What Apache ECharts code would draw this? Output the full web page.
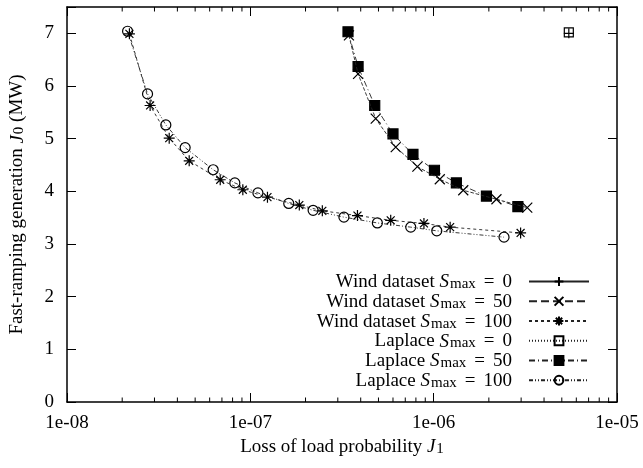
<!DOCTYPE html>
<html><head><meta charset="utf-8">
<script src="https://cdn.jsdelivr.net/npm/echarts@6/dist/echarts.min.js"></script>
<style>html,body{margin:0;padding:0;background:#fff}#c{width:643px;height:468px}</style>
</head><body><div id="c"></div>
<script>
// ---- data (x = loss of load probability J1, y = fast-ramping generation J0 in MW)
const xTickLabels = ['1e-08', '1e-07', '1e-06', '1e-05'];
const yTickLabels = ['0', '1', '2', '3', '4', '5', '6', '7'];
const minorTickValues = [
  2e-8, 3e-8, 4e-8, 5e-8, 6e-8, 7e-8, 8e-8, 9e-8,
  2e-7, 3e-7, 4e-7, 5e-7, 6e-7, 7e-7, 8e-7, 9e-7,
  2e-6, 3e-6, 4e-6, 5e-6, 6e-6, 7e-6, 8e-6, 9e-6
];
const seriesNames = [
  ['Wind dataset', '0'], ['Wind dataset', '50'], ['Wind dataset', '100'],
  ['Laplace', '0'], ['Laplace', '50'], ['Laplace', '100']
];
const windS0 = [[5.46e-6, 7.0]];
const windS50 = [
  [3.45e-7, 6.96], [3.87e-7, 6.23], [4.83e-7, 5.38], [6.21e-7, 4.84], [8.15e-7, 4.47],
  [1.08e-6, 4.23], [1.45e-6, 4.02], [2.20e-6, 3.85], [3.24e-6, 3.69]
];
const windS100 = [
  [2.19e-8, 6.99], [2.84e-8, 5.63], [3.61e-8, 5.01], [4.64e-8, 4.58], [6.85e-8, 4.22],
  [9.1e-8, 4.03], [1.24e-7, 3.89], [1.85e-7, 3.74], [2.47e-7, 3.63], [3.84e-7, 3.54],
  [5.83e-7, 3.45], [8.85e-7, 3.39], [1.23e-6, 3.32], [2.98e-6, 3.21]
];
const laplaceS0 = [[5.46e-6, 7.02]];
const laplaceS50 = [
  [3.41e-7, 7.03], [3.87e-7, 6.37], [4.77e-7, 5.63], [6.0e-7, 5.09], [7.71e-7, 4.70],
  [1.01e-6, 4.40], [1.33e-6, 4.16], [1.94e-6, 3.91], [2.88e-6, 3.71]
];
const laplaceS100 = [
  [2.14e-8, 7.04], [2.75e-8, 5.85], [3.46e-8, 5.26], [4.41e-8, 4.83], [6.27e-8, 4.41],
  [8.23e-8, 4.16], [1.10e-7, 3.97], [1.62e-7, 3.77], [2.20e-7, 3.64], [3.24e-7, 3.51],
  [4.93e-7, 3.40], [7.50e-7, 3.32], [1.04e-6, 3.25], [2.42e-6, 3.13]
];

// ---- chart
const FONT = 'Liberation Serif';
const FS = 19;
const chart = echarts.init(document.getElementById('c'), null, {renderer: 'canvas'});
const nameOf = p => p[0] + ' Smax = ' + p[1];
const legendLabel = {};
seriesNames.forEach(p => {
  legendLabel[nameOf(p)] = '{n|' + p[0] + ' }{i|S}{s|max}{e|=}{n|' + p[1] + '}{g| }';
});
const richText = {
  n: {fontFamily: FONT, fontSize: FS, color: '#000', lineHeight: 20.5, verticalAlign: 'bottom'},
  i: {fontFamily: FONT, fontSize: FS, fontStyle: 'italic', color: '#000', lineHeight: 20.5, verticalAlign: 'bottom', padding: [0, 1, 0, 0]},
  s: {fontFamily: FONT, fontSize: 15, color: '#000', lineHeight: 8, verticalAlign: 'bottom'},
  e: {fontFamily: FONT, fontSize: FS, color: '#000', lineHeight: 20.5, verticalAlign: 'bottom', padding: [0, 8, 0, 8]},
  g: {width: 12}
};

const symPlus = 'path://M5,0L5,10M0,5L10,5';
const symX = 'path://M0,0L10,10M10,0L0,10';
const symStar = 'path://M5,0L5,10M0,5L10,5M1.4,1.4L8.6,8.6M8.6,1.4L1.4,8.6';

function lineSeries(p, data, symbol, size, fill, dash, z) {
  return {
    name: nameOf(p), type: 'line', data: data, xAxisIndex: 0, yAxisIndex: 0,
    symbol: symbol, symbolSize: size, showSymbol: true, showAllSymbol: true,
    smooth: false, silent: true, z: z,
    lineStyle: {color: '#222', width: 0.9, type: dash},
    itemStyle: {color: fill, borderColor: '#000', borderWidth: 1.2, opacity: 1},
    emphasis: {disabled: true}
  };
}

const axisLineStyle = {color: '#000', width: 1.5};
const tickStyle = {show: true, inside: true, length: 9, lineStyle: {color: '#000', width: 1}};
const option = {
  animation: false,
  backgroundColor: '#fff',
  grid: {left: 66, right: 26, top: 7, bottom: 66, containLabel: false},
  xAxis: [
    {
      type: 'log', logBase: 10, min: 1e-8, max: 1e-5, position: 'bottom',
      axisLine: {show: true, onZero: false, lineStyle: axisLineStyle},
      axisTick: tickStyle,
      splitLine: {show: false},
      axisLabel: {
        margin: 12, color: '#000', fontFamily: FONT, fontSize: FS,
        formatter: v => { const e = Math.round(Math.log10(v)); return xTickLabels[e + 8] || ''; }
      },
      name: '{n|Loss of load probability }{i|J}{s|1}',
      nameLocation: 'middle', nameGap: 34,
      nameTextStyle: {color: '#000', fontFamily: FONT, fontSize: FS, rich: richText}
    },
    {
      type: 'log', logBase: 10, min: 1e-8, max: 1e-5, position: 'top',
      axisLine: {show: true, onZero: false, lineStyle: axisLineStyle},
      axisTick: tickStyle,
      axisLabel: {show: false}, splitLine: {show: false}
    }
  ],
  yAxis: [
    {
      type: 'value', min: 0, max: 7.5, interval: 1, position: 'left',
      axisLine: {show: true, onZero: false, lineStyle: axisLineStyle},
      axisTick: tickStyle,
      splitLine: {show: false},
      axisLabel: {
        margin: 13, color: '#000', fontFamily: FONT, fontSize: FS,
        formatter: v => (Number.isInteger(v) ? (yTickLabels[v] || '') : '')
      },
      name: '{n|Fast-ramping generation }{i|J}{s|0}{n| (MW)}',
      nameLocation: 'middle', nameGap: 40, nameRotate: 90,
      nameTextStyle: {color: '#000', fontFamily: FONT, fontSize: FS, rich: richText}
    },
    {
      type: 'value', min: 0, max: 7.5, interval: 1, position: 'right',
      axisLine: {show: true, onZero: false, lineStyle: axisLineStyle},
      axisTick: tickStyle,
      axisLabel: {show: false}, splitLine: {show: false}
    }
  ],
  legend: {
    data: seriesNames.map(nameOf),
    orient: 'vertical', align: 'right', right: 53, top: 272,
    padding: 0, itemGap: 0, itemWidth: 60, itemHeight: 11,
    selectedMode: false,
    formatter: name => legendLabel[name],
    textStyle: {color: '#000', fontFamily: FONT, fontSize: FS, rich: richText}
  },
  series: [
    lineSeries(seriesNames[0], windS0, symPlus, 10, '#000', 'solid', 5),
    lineSeries(seriesNames[1], windS50, symX, 10, '#000', 'dashed', 5),
    lineSeries(seriesNames[2], windS100, symStar, 11, '#000', [3, 3], 5),
    lineSeries(seriesNames[3], laplaceS0, 'rect', 9, 'rgba(0,0,0,0)', [1, 2], 4),
    lineSeries(seriesNames[4], laplaceS50, 'rect', 10, '#000', [6, 3, 1, 3], 4),
    lineSeries(seriesNames[5], laplaceS100, 'circle', 10, 'rgba(0,0,0,0)', [4, 2, 1, 2, 1, 2], 4),
    {
      type: 'custom', xAxisIndex: 0, yAxisIndex: 0, silent: true, clip: false, z: 6,
      data: minorTickValues.map(v => [v, 0]),
      renderItem: (params, api) => {
        const v = api.value(0);
        const b = api.coord([v, 0]);
        const t = api.coord([v, 7.5]);
        return {
          type: 'group',
          children: [
            {type: 'line', shape: {x1: b[0], y1: b[1], x2: b[0], y2: b[1] - 4.5}, style: {stroke: '#000', lineWidth: 1}},
            {type: 'line', shape: {x1: t[0], y1: t[1], x2: t[0], y2: t[1] + 4.5}, style: {stroke: '#000', lineWidth: 1}}
          ]
        };
      }
    }
  ]
};
chart.setOption(option);
</script></body></html>
